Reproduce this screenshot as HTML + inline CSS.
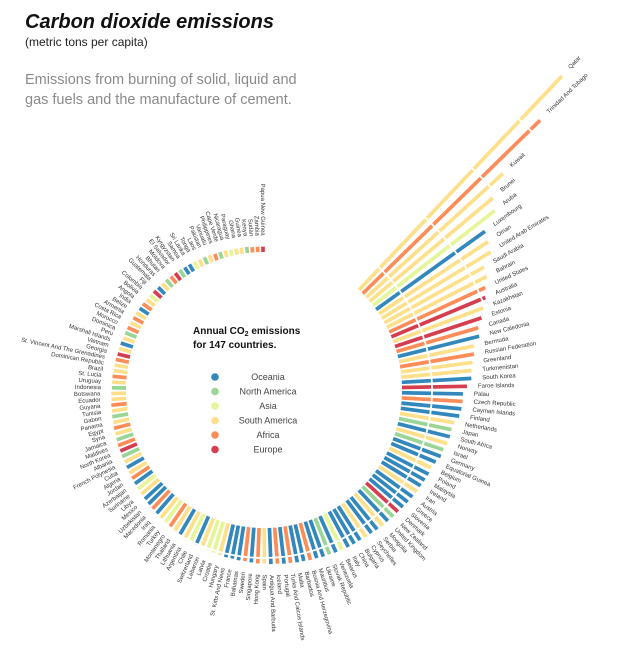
<!DOCTYPE html>
<html><head><meta charset="utf-8">
<style>
html,body{margin:0;padding:0;background:#fff;}
body{width:626px;height:670px;overflow:hidden;font-family:"Liberation Sans",sans-serif;}
svg{display:block;}
</style></head>
<body>
<svg id="chart" width="626" height="670" viewBox="0 0 626 670" xmlns="http://www.w3.org/2000/svg">
  <defs>
    <mask id="gridMask" maskUnits="userSpaceOnUse" x="0" y="0" width="626" height="670">
      <rect x="0" y="0" width="626" height="670" fill="#fff"/>
      <g id="gridMaskCircles"></g>
    </mask>
  </defs>
  <text x="25" y="28" font-size="20" font-style="italic" font-weight="bold" fill="#111" font-family="Liberation Sans, sans-serif">Carbon dioxide emissions</text>
  <text x="25" y="46" font-size="12" fill="#222">(metric tons per capita)</text>
  <text x="25" y="84" font-size="14.5" fill="#8a8a8a">Emissions from burning of solid, liquid and</text>
  <text x="25" y="104" font-size="14.5" fill="#8a8a8a">gas fuels and the manufacture of cement.</text>
  <g id="bars" mask="url(#gridMask)"></g>
  <g id="labels"></g>
  <g>
    <text x="193" y="334" font-size="10" font-weight="bold" fill="#111">Annual CO<tspan font-size="7" dy="2">2</tspan><tspan dy="-2"> emissions</tspan></text>
    <text x="193" y="348" font-size="10" font-weight="bold" fill="#111">for 147 countries.</text>
  </g>
  <g id="legend-items"></g>
</svg>
<script>
const countries = ["Qatar","Trinidad And Tobago","Kuwait","Brunei","Aruba","Luxembourg","Oman","United Arab Emirates","Saudi Arabia","Bahrain","United States","Australia","Kazakhstan","Estonia","Canada","New Caledonia","Bermuda","Russian Federation","Greenland","Turkmenistan","South Korea","Faroe Islands","Palau","Czech Republic","Cayman Islands","Finland","Netherlands","Japan","South Africa","Norway","Israel","Germany","Equatorial Guinea","Belgium","Poland","Malaysia","Ireland","Iran","Austria","Greece","Slovenia","Denmark","New Zealand","United Kingdom","Mongolia","Serbia","Seychelles","Cyprus","Bulgaria","China","Italy","Belarus","Venezuela","Slovak Republic","Ukraine","Mauritius","Bosnia And Herzegovina","Barbados","Malta","Turks And Caicos Islands","Portugal","Iceland","Antigua And Barbuda","Spain","Hong Kong","Singapore","Sweden","Bahamas","France","St. Kitts And Nevis","Hungary","Croatia","Latvia","Lebanon","Switzerland","Chile","Argentina","Lithuania","Thailand","Montenegro","Turkey","Romania","Iraq","Macedonia","Uzbekistan","Mexico","Libya","Suriname","Azerbaijan","Jordan","Algeria","Cuba","French Polynesia","Albania","North Korea","Maldives","Jamaica","Syria","Egypt","Panama","Gabon","Tunisia","Guyana","Ecuador","Botswana","Indonesia","Uruguay","St. Lucia","Brazil","Dominican Republic","St. Vincent And The Grenadines","Georgia","Vietnam","Marshall Islands","Peru","Dominica","Morocco","Costa Rica","Armenia","Belize","India","Angola","Bolivia","Colombia","Fiji","Guatemala","Honduras","Bhutan","Moldova","El Salvador","Kyrgyzstan","Samoa","Sri Lanka","Tonga","Laos","Pakistan","Vanuatu","Philippines","Cape Verde","Nicaragua","Paraguay","Ghana","Guinea","Kenya","Sudan","Zambia","Papua New Guinea"];
const emissions = [44,37,27.5,24,23,20,19.5,19,17,16.7,15.8,15.2,14.3,13.6,12.7,12.5,11.4,11.2,10.8,10.5,10.4,9.7,9.1,9.1,9.0,8.8,8.2,8.0,8.0,7.9,7.6,7.6,7.2,6.9,7.0,6.9,6.8,6.8,6.7,6.6,6.5,6.4,6.4,6.3,6.3,6.2,6.1,6.1,6.0,6.0,6.0,5.9,5.9,5.8,5.8,5.7,5.7,5.6,5.6,5.5,5.5,5.4,5.4,5.3,5.3,5.2,5.1,5.1,5.0,5.0,4.9,4.8,4.7,4.6,4.6,4.5,4.4,4.3,4.2,4.1,4.0,3.9,3.8,3.7,3.6,3.5,3.4,3.3,3.2,3.1,3.0,2.9,2.8,2.8,2.7,2.7,2.6,2.5,2.5,2.4,2.4,2.3,2.3,2.2,2.2,2.1,2.1,2.1,2.0,2.0,2.0,1.9,1.9,1.9,1.8,1.8,1.8,1.7,1.7,1.7,1.6,1.6,1.5,1.5,1.5,1.4,1.4,1.4,1.3,1.3,1.3,1.2,1.2,1.2,1.1,1.1,1.1,1.0,1.0,1.0,0.9,0.9,0.9,0.9,0.8,0.8,0.8];
const regionCodes = ("SFSSAOSSSSFESEFO"+"SFSSOEOFOOSNOSNOOSOOOSOO"+"OENOSOOSOOOAONOOFOOF"+"OFOSFOFOOOSAASOASOSF"+"ASOFOOSAOFSOSNEFNSFS"+"NSFSSNSFSSFESOSNFSFS"+"OFSAEOSNFENOOASNSFNSASSNFFE").split("");
const regionNames = ["Oceania","North America","Asia","South America","Africa","Europe"];
const regionKeys = ["O","N","A","S","F","E"];
const regionColors = {O:"#3288bd",N:"#99d594",A:"#e6f598",S:"#fee08b",F:"#fc8d59",E:"#d53e4f"};

const NS = "http://www.w3.org/2000/svg";
const cx = 264, cy = 390, inner = 138, k = 6.7;
const startAngle = 43.5, step = 2.165;
function angleOf(i){ return startAngle + i*step; }
function rScale(v){ return inner + v*k; }
function pt(r, a){ const t = a*Math.PI/180; return [cx + r*Math.sin(t), cy - r*Math.cos(t)]; }

const barsG = document.getElementById('bars');
const labG = document.getElementById('labels');
emissions.forEach((v,i)=>{
  const a = angleOf(i);
  const p0 = pt(inner, a), p1 = pt(rScale(v), a);
  const ln = document.createElementNS(NS,'line');
  ln.setAttribute('x1',p0[0]); ln.setAttribute('y1',p0[1]);
  ln.setAttribute('x2',p1[0]); ln.setAttribute('y2',p1[1]);
  ln.setAttribute('stroke', regionColors[regionCodes[i]||"S"]);
  ln.setAttribute('stroke-width','3.7');
  
  
  barsG.appendChild(ln);
  const lp = pt(rScale(v)+11, a);
  const tx = document.createElementNS(NS,'text');
  tx.setAttribute('x',lp[0]); tx.setAttribute('y',lp[1]);
  tx.setAttribute('font-size','6');
  tx.setAttribute('fill','#333');
  tx.setAttribute('dominant-baseline','middle');
  if (a < 180) {
    tx.setAttribute('text-anchor','start');
    tx.setAttribute('transform','rotate('+(a-90)+' '+lp[0]+' '+lp[1]+')');
  } else {
    tx.setAttribute('text-anchor','end');
    tx.setAttribute('transform','rotate('+(a+90)+' '+lp[0]+' '+lp[1]+')');
  }
  tx.textContent = countries[i];
  
  
  labG.appendChild(tx);
});

const maskG = document.getElementById('gridMaskCircles');
[30,98,166,234].forEach(d=>{
  const c = document.createElementNS(NS,'circle');
  c.setAttribute('cx',cx); c.setAttribute('cy',cy); c.setAttribute('r',inner+d);
  c.setAttribute('fill','none'); c.setAttribute('stroke','#000'); c.setAttribute('stroke-width','1.8');
  
  
  maskG.appendChild(c);
});

const legG = document.getElementById('legend-items');
regionNames.forEach((n,i)=>{
  const y = 377 + i*14.5;
  const c = document.createElementNS(NS,'circle');
  c.setAttribute('cx',215); c.setAttribute('cy',y); c.setAttribute('r',3.8);
  c.setAttribute('fill',regionColors[regionKeys[i]]);
  
  
  legG.appendChild(c);
  const t = document.createElementNS(NS,'text');
  t.setAttribute('x',268); t.setAttribute('y',y+3);
  t.setAttribute('text-anchor','middle'); t.setAttribute('font-size','9'); t.setAttribute('fill','#444');
  t.textContent = n;
  
  
  legG.appendChild(t);
});
</script>
</body></html>
